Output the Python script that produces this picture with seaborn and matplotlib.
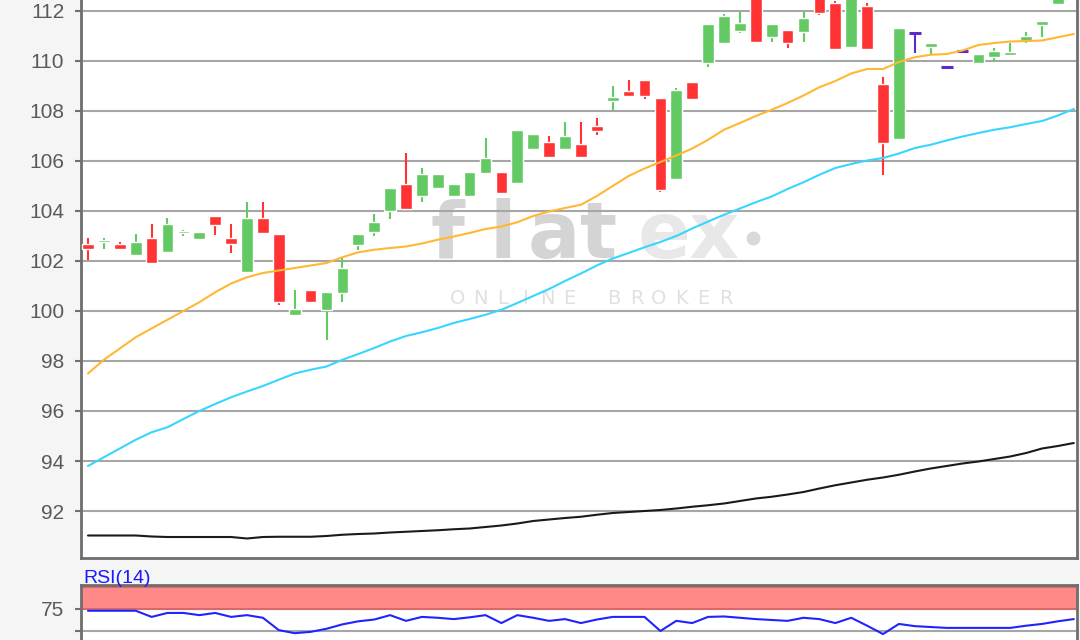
import numpy as np
import pandas as pd
import matplotlib
matplotlib.use('Agg')
import matplotlib.pyplot as plt
import seaborn as sns

# Kursdaten, eine Kerze pro Tag
open_ = [102.68, 102.76, 102.68, 102.24, 102.92, 102.36, 103.12, 102.88, 103.80, 102.92,
         101.56, 103.72, 103.08, 99.84, 100.84, 100.04, 100.72, 102.64, 103.16, 104.00,
         105.08, 104.60, 104.92, 104.60, 104.60, 105.52, 105.56, 105.12, 106.48, 106.76,
         106.48, 106.68, 107.40, 108.40, 108.80, 109.24, 108.52, 105.28, 109.16, 109.92,
         110.72, 111.20, 112.80, 110.96, 111.24, 111.16, 112.60, 112.32, 110.56, 112.20,
         109.08, 106.88, 111.12, 110.56, 109.76, 110.40, 109.92, 110.16, 110.24, 110.80,
         111.44, 112.30, 112.90]
high = [102.92, 102.92, 102.76, 103.08, 103.48, 103.72, 103.24, 103.16, 103.80, 103.48,
        104.36, 104.36, 103.08, 100.84, 100.84, 100.76, 102.16, 103.08, 103.88, 104.92,
        106.32, 105.72, 105.48, 105.08, 105.56, 106.92, 105.56, 107.24, 107.08, 107.00,
        107.56, 107.56, 107.72, 109.00, 109.24, 109.24, 108.52, 108.92, 109.16, 111.48,
        111.90, 111.96, 112.90, 111.48, 111.24, 111.96, 112.70, 112.40, 112.90, 112.32,
        109.36, 111.32, 111.12, 110.72, 109.76, 110.40, 110.28, 110.52, 110.72, 111.16,
        111.60, 112.90, 113.40]
low = [102.04, 102.48, 102.48, 102.20, 101.90, 102.32, 103.02, 102.86, 103.04, 102.32,
       101.55, 103.12, 100.24, 99.84, 100.36, 98.84, 100.36, 102.44, 103.00, 103.68,
       104.08, 104.36, 104.88, 104.60, 104.60, 105.52, 104.72, 105.12, 106.48, 106.16,
       106.48, 106.16, 107.04, 108.04, 108.60, 108.48, 104.76, 105.28, 108.48, 109.76,
       110.72, 111.12, 110.76, 110.76, 110.52, 110.76, 111.84, 110.48, 110.56, 110.48,
       105.44, 106.88, 110.32, 110.24, 109.76, 110.40, 109.92, 109.96, 110.24, 110.72,
       110.96, 112.30, 112.80]
close = [102.48, 102.84, 102.50, 102.76, 101.92, 103.48, 103.22, 103.16, 103.44, 102.68,
         103.72, 103.12, 100.36, 100.10, 100.36, 100.76, 101.72, 103.08, 103.56, 104.92,
         104.08, 105.48, 105.48, 105.08, 105.56, 106.12, 104.72, 107.24, 107.08, 106.16,
         107.00, 106.16, 107.20, 108.56, 108.60, 108.60, 104.84, 108.84, 108.48, 111.48,
         111.80, 111.52, 110.76, 111.48, 110.72, 111.72, 111.92, 110.48, 112.80, 110.48,
         106.72, 111.32, 111.12, 110.72, 109.76, 110.40, 110.28, 110.40, 110.36, 111.00,
         111.60, 112.80, 113.30]

# gleitende Durchschnitte
sma_short = [97.50, 98.05, 98.50, 98.95, 99.30, 99.65, 100.00, 100.35, 100.75, 101.10,
             101.35, 101.52, 101.62, 101.72, 101.82, 101.92, 102.15, 102.35, 102.45, 102.52,
             102.58, 102.70, 102.85, 102.98, 103.12, 103.28, 103.38, 103.55, 103.80, 103.98,
             104.12, 104.25, 104.60, 105.00, 105.40, 105.70, 105.96, 106.22, 106.50, 106.85,
             107.25, 107.52, 107.80, 108.05, 108.32, 108.62, 108.95, 109.20, 109.50, 109.68,
             109.68, 109.96, 110.15, 110.25, 110.28, 110.42, 110.64, 110.72, 110.78, 110.80,
             110.82, 110.95, 111.08]
sma_mid = [93.80, 94.15, 94.50, 94.85, 95.15, 95.35, 95.68, 96.00, 96.28, 96.55,
           96.78, 97.00, 97.25, 97.50, 97.65, 97.78, 98.05, 98.28, 98.52, 98.78,
           99.00, 99.15, 99.32, 99.52, 99.68, 99.85, 100.05, 100.32, 100.60, 100.88,
           101.20, 101.50, 101.82, 102.10, 102.32, 102.55, 102.76, 103.00, 103.30, 103.58,
           103.85, 104.10, 104.35, 104.58, 104.88, 105.15, 105.45, 105.72, 105.88, 106.02,
           106.12, 106.30, 106.52, 106.65, 106.82, 106.98, 107.12, 107.25, 107.35, 107.48,
           107.60, 107.82, 108.08]
sma_long = [91.02, 91.02, 91.02, 91.02, 90.98, 90.96, 90.96, 90.96, 90.96, 90.96,
            90.90, 90.96, 90.97, 90.97, 90.97, 91.00, 91.05, 91.08, 91.10, 91.14,
            91.17, 91.20, 91.23, 91.27, 91.30, 91.36, 91.42, 91.50, 91.60, 91.66,
            91.72, 91.77, 91.85, 91.92, 91.96, 92.00, 92.04, 92.10, 92.17, 92.23,
            92.30, 92.40, 92.50, 92.57, 92.66, 92.76, 92.90, 93.03, 93.14, 93.25,
            93.34, 93.45, 93.58, 93.70, 93.80, 93.90, 93.98, 94.08, 94.18, 94.32,
            94.50, 94.60, 94.72]
rsi = [74.6, 74.6, 74.6, 74.6, 73.2, 74.1, 74.1, 73.6, 74.1, 73.2,
       73.6, 73.0, 70.2, 69.5, 69.8, 70.5, 71.5, 72.2, 72.6, 73.6,
       72.3, 73.2, 73.0, 72.7, 73.1, 73.6, 71.8, 73.6, 73.0, 72.3,
       72.7, 71.8, 72.6, 73.2, 73.2, 73.2, 70.0, 72.3, 71.8, 73.2,
       73.3, 73.0, 72.7, 72.5, 72.3, 73.0, 72.7, 71.8, 73.0, 71.2,
       69.3, 71.6, 71.1, 70.9, 70.7, 70.7, 70.7, 70.7, 70.7, 71.2,
       71.6, 72.2, 72.7]
price_ticks = [92, 94, 96, 98, 100, 102, 104, 106, 108, 110, 112]

df = pd.DataFrame({'open': open_, 'high': high, 'low': low, 'close': close,
                   'sma_short': sma_short, 'sma_mid': sma_mid,
                   'sma_long': sma_long, 'rsi': rsi})
df['idx'] = np.arange(len(df))

GREEN, RED, DOJI = '#63c963', '#ff3333', '#5a2ad0'
df['color'] = np.where(df['close'] > df['open'], GREEN,
                       np.where(df['close'] < df['open'], RED, DOJI))

sns.set_style('white')
plt.rcParams['font.family'] = ['Liberation Sans', 'DejaVu Sans']

W, H = 1080, 640
fig = plt.figure(figsize=(10.8, 6.4), dpi=100, facecolor='#f5f5f5')
ax = fig.add_axes([81 / W, 1 - 558 / H, 996 / W, 558 / H])
rax = fig.add_axes([81 / W, 0, 996 / W, 55 / H], sharex=ax)

# Wasserzeichen
def ax_xy(px, py):
    return (px - 81) / 996, (558 - py) / 558

for ch, px, col in [('f', 447, '#d4d4d4'), ('l', 503, '#d4d4d4'), ('a', 554, '#d4d4d4'),
                    ('t', 599, '#d4d4d4'), ('e', 664, '#e8e8e8'), ('x', 714, '#e8e8e8')]:
    x, y = ax_xy(px, 258)
    ax.text(x, y, ch, transform=ax.transAxes, ha='center', va='baseline',
            fontsize=56, fontweight='bold', color=col, family='DejaVu Sans', zorder=0)
dx, dy = ax_xy(753, 238)
ax.plot([dx], [dy], 'o', ms=9, color='#d9d9d9', transform=ax.transAxes, zorder=0)
for k, ch in enumerate('ONLINE BROKER'):
    x, y = ax_xy(458 + 22.3 * k, 298)
    ax.text(x, y, ch, transform=ax.transAxes, ha='center', va='center',
            fontsize=14, color='#e0e0e0', family='DejaVu Sans', zorder=0)

# Kerzen
body_lo = df[['open', 'close']].min(axis=1)
body_h = (df['close'] - df['open']).abs()
ax.vlines(df['idx'], df['low'], df['high'], colors=df['color'], lw=1.5, zorder=3)
ax.bar(df['idx'], body_h, bottom=body_lo, width=0.74, color=df['color'], zorder=4)
flat = df[df['close'] == df['open']]
ax.hlines(flat['close'], flat['idx'] - 0.37, flat['idx'] + 0.37, colors=DOJI, lw=2.2, zorder=4)

# Durchschnittslinien
sns.lineplot(data=df, x='idx', y='sma_short', ax=ax, color='#ffb833', lw=1.5, zorder=5)
sns.lineplot(data=df, x='idx', y='sma_mid', ax=ax, color='#38d5ff', lw=1.5, zorder=5)
sns.lineplot(data=df, x='idx', y='sma_long', ax=ax, color='#1a1a1a', lw=1.5, zorder=5)

ax.set_xlim(-0.44, 62.2)
ax.set_ylim(90.12, 112.44)
ax.set_yticks(price_ticks)
ax.set_yticklabels([str(t) for t in price_ticks])
ax.yaxis.grid(True, color='#a6a6a6', lw=1.5)
ax.set_axisbelow(True)
ax.set_xlabel('')
ax.set_ylabel('')
ax.tick_params(axis='y', direction='out', length=4, width=1.5, color='#707070',
               labelsize=15, labelcolor='#5a5a5a', pad=8, left=True)
ax.tick_params(axis='x', bottom=False, labelbottom=False)
for s in ['left', 'bottom', 'right']:
    ax.spines[s].set_color('#6e6e6e')
    ax.spines[s].set_linewidth(2)
ax.spines['top'].set_visible(False)

# RSI-Panel
rax.axhspan(75, 80, color='#ff8888', zorder=1, lw=0)
rax.axhline(75, color='#d66a6a', lw=1.5, zorder=2)
rax.axhline(80, color='#d66a6a', lw=1.5, zorder=2)
sns.lineplot(data=df, x='idx', y='rsi', ax=rax, color='#2222ff', lw=1.5, zorder=5)
rax.set_ylim(67.95, 80.45)
rax.set_yticks([70, 75])
rax.set_yticklabels(['', '75'])
rax.yaxis.grid(True, color='#a6a6a6', lw=1.5)
rax.set_axisbelow(True)
rax.set_xlabel('')
rax.set_ylabel('')
rax.tick_params(axis='y', direction='out', length=4, width=1.5, color='#707070',
                labelsize=15, labelcolor='#5a5a5a', pad=8, left=True)
rax.tick_params(axis='x', bottom=False, labelbottom=False)
for s in ['left', 'top', 'right']:
    rax.spines[s].set_color('#6e6e6e')
    rax.spines[s].set_linewidth(2)
rax.spines['bottom'].set_visible(False)

fig.text(83 / W, 1 - 583 / H, 'RSI(14)', color='#1a1aff', fontsize=14,
         ha='left', va='baseline')

fig.savefig('out.png', dpi=100, facecolor=fig.get_facecolor())
